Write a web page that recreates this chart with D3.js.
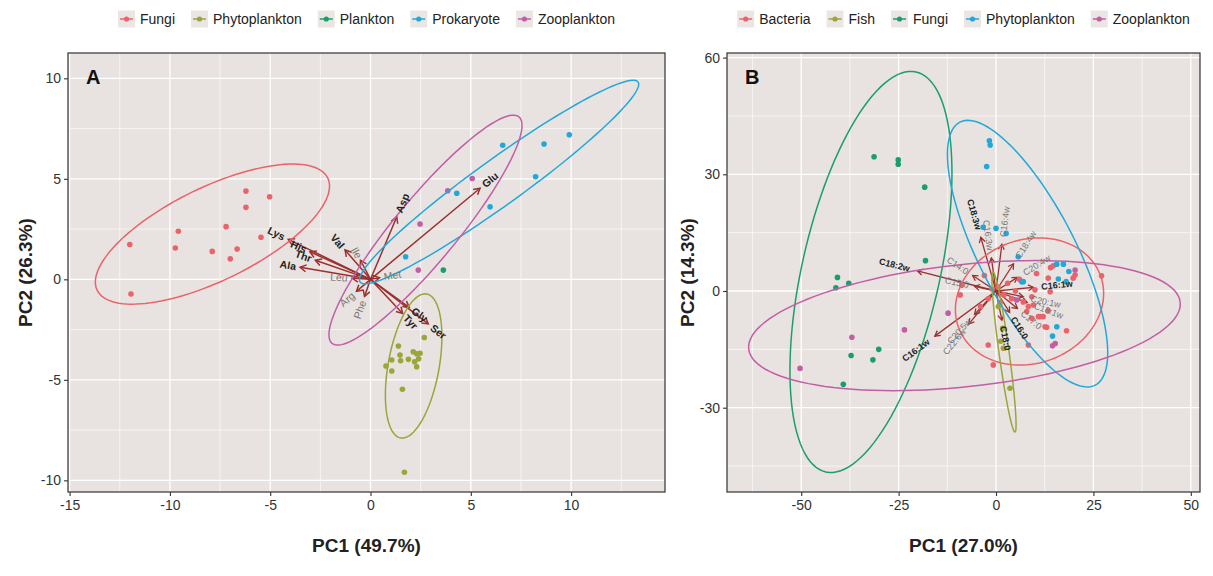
<!DOCTYPE html>
<html><head><meta charset="utf-8">
<script src="https://cdn.jsdelivr.net/npm/d3@7"></script>
<style>body{margin:0;background:#fff;} text{font-family:"Liberation Sans",Arial,Helvetica,sans-serif;}</style>
</head><body><svg id="c" width="1213" height="576"></svg>
<script>
// ---------------- DATA ----------------
// Panel A (amino acids)
const groupsA = ["Fungi","Phytoplankton","Plankton","Prokaryote","Zooplankton"];
const fungiA = [[-12.0,1.73],[-11.94,-0.73],[-9.58,2.39],[-9.73,1.56],[-7.89,1.39],[-7.2,2.62],[-6.99,1.02],[-6.65,1.51],[-6.21,4.39],[-6.21,3.58],[-5.03,4.11],[-5.46,2.09]];
const phytoA = [[1.39,-3.32],[0.77,-4.31],[1.06,-4.56],[1.06,-4.01],[1.47,-3.77],[1.5,-4.05],[1.89,-3.98],[2.13,-3.6],[2.3,-3.7],[2.47,-3.68],[2.4,-3.95],[2.3,-4.35],[2.68,-2.89],[1.59,-5.47],[1.69,-9.6],[2.2,-4.1]];
const planktonA = [[3.63,0.46]];
const prokA = [[6.59,6.67],[8.65,6.73],[9.91,7.19],[8.23,5.1],[4.3,4.28],[5.96,3.61],[1.75,1.12]];
const zooA = [[5.07,5.02],[3.85,4.41],[2.47,2.75],[2.38,0.46]];
// ellipses: [group, cx, cy, semi-major, semi-minor, angle(deg)]
const ellipsesA = [["Fungi",-7.88,2.25,6.39,2.32,25.9],["Phytoplankton",2.15,-4.31,3.64,1.27,79.7],["Prokaryote",6.41,4.84,8.53,1.15,35.7],["Zooplankton",2.74,2.45,7.31,1.56,50.4]];
// loadings: [name, PC1, PC2]
const loadingsA = [["Lys",-4.10,1.99],["His",-3.02,1.37],["Thr",-2.75,0.95],["Ala",-3.51,0.60],["Val",-1.27,1.46],["Ile",-0.5,0.95],["Leu",-0.92,0.06],["Met",0.45,0.08],["Arg",-0.7,-0.6],["Phe",-0.3,-0.85],["Asp",1.31,3.11],["Glu",5.46,4.53],["Gly",1.93,-1.39],["Tyr",1.6,-1.7],["Ser",2.88,-2.22]];
const minorVarsA = ["Ile","Leu","Met","Arg","Phe"];
const xTicksA = [-15,-10,-5,0,5,10];
const yTicksA = [-10,-5,0,5,10];

// Panel B (fatty acids)
const groupsB = ["Bacteria","Fish","Fungi","Phytoplankton","Zooplankton"];
const bactB = [[14.7,6.5],[14.0,6.0],[10.4,4.5],[13.4,3.3],[20.3,4.1],[19.8,3.3],[27.1,3.9],[13.9,-0.2],[10.9,-6.6],[12.1,-6.6],[13.4,-5.1],[8.3,-4.0],[9.2,-7.0],[13.0,-9.3],[18.1,-10.2],[-2.0,-13.9],[1.9,-14.7],[8.3,-13.9],[-0.7,-19.0],[10,0.3],[9.2,-1.5],[9.6,-3.6],[7,-2.8],[7.9,-5.3],[11.3,-6.6],[12.6,-9.2],[-9.2,-1.0],[-8.8,1.5],[0.5,1],[2,-1],[-1,0.5],[3,2],[4,-2],[5,0],[1,-3],[-2,-2],[6,3],[-3,4],[-4,-4]];
const fishB = [[1.7,-9.6],[1.2,-12.9],[2.1,-14.7],[3.6,-25.0],[0.6,-4.0]];
const fungiB = [[-31.3,34.5],[-25.1,33.7],[-25.1,32.6],[-18.3,26.7],[-18.1,7.8],[-40.7,3.5],[-41.1,0.85],[-37.8,2.0],[-37.2,-16.6],[-31.6,-17.7],[-30.1,-15.0],[-39.2,-24.0]];
const phytoB = [[-1.7,38.6],[-1.5,37.5],[-2.4,32],[-3.3,16.4],[0,16.1],[2.6,14.8],[5.7,8.8],[15.6,6.9],[17.3,6.9],[18.7,5],[16,3.1],[18,2.4],[15.6,-9.2],[14.5,-11.6],[6.6,2.4],[7,2.4]];
const zooB = [[-50.3,-19.9],[-37,-11.9],[-23.5,-10],[-12.3,-5.7],[14.5,-14.1],[15.2,-13.5],[5.3,-2.3],[20.3,5.4]];
const ellipsesB = [["Bacteria",8.6,-2.7,19.4,15.9,20],["Fish",2.05,-15.7,20.75,1.3,-82.2],["Fungi",-32.1,4.9,52.7,17.7,77.3],["Phytoplankton",8.1,9.6,38.0,12.4,-62.8],["Zooplankton",-8.1,-8.9,55.7,15.7,6.2]];
const loadingsB = [["C16:4w",1.5,12],["C16:3w",-1.2,8.5],["C18:4w",4.5,7],["C20:4w",5.5,3.5],["C14:0",-6,4],["C15:0",-5.5,1.2],["C20:5w",-5.5,-6],["C22:6w",-7,-8.5],["C20:1w",7,-1.5],["C17:0",5.5,-4.5],["C18:1w",8,-3],
  ["C18:3w",-3.9,13.8],["C18:2w",-20.2,5.2],["C16:1w",-15.7,-11.6],["C16:1w",9.6,0.95],["C16:0",3.5,-5.5],["C18:0",1.5,-7.5]];
const minorVarsB = ["C16:4w","C16:3w","C18:4w","C20:4w","C14:0","C15:0","C20:5w","C22:6w","C20:1w","C17:0","C18:1w"];
const xTicksB = [-50,-25,0,25,50];
const yTicksB = [-30,0,30,60];

// ---------------- STYLE ----------------
const palette = {red:"#ea636b", olive:"#9ba53a", green:"#1a9e6e", blue:"#22a8d8", magenta:"#c25ea6"};
const colA = {"Fungi":palette.red,"Phytoplankton":palette.olive,"Plankton":palette.green,"Prokaryote":palette.blue,"Zooplankton":palette.magenta};
const colB = {"Bacteria":palette.red,"Fish":palette.olive,"Fungi":palette.green,"Phytoplankton":palette.blue,"Zooplankton":palette.magenta};
const arrowCol = "#9b3030";
const svg = d3.select("#c");

function drawPanel(cfg){
  const g = svg.append("g");
  const x = d3.scaleLinear().domain(cfg.xDomain).range([cfg.left,cfg.right]);
  const y = d3.scaleLinear().domain(cfg.yDomain).range([cfg.bottom,cfg.top]);
  g.append("rect").attr("x",cfg.left).attr("y",cfg.top).attr("width",cfg.right-cfg.left).attr("height",cfg.bottom-cfg.top).attr("fill","#e8e3e0");
  const minors = (ticks, dom) => {
    const step = ticks[1]-ticks[0]; const out=[];
    for(let v=ticks[0]-step/2; v<=dom[1]; v+=step){ if(v>=dom[0]) out.push(v); }
    return out;
  };
  const grid = g.append("g");
  minors(cfg.xTicks,cfg.xDomain).forEach(v=>grid.append("line").attr("x1",x(v)).attr("x2",x(v)).attr("y1",cfg.top).attr("y2",cfg.bottom).attr("stroke","#fff").attr("stroke-width",0.6));
  minors(cfg.yTicks,cfg.yDomain).forEach(v=>grid.append("line").attr("y1",y(v)).attr("y2",y(v)).attr("x1",cfg.left).attr("x2",cfg.right).attr("stroke","#fff").attr("stroke-width",0.6));
  cfg.xTicks.forEach(v=>grid.append("line").attr("x1",x(v)).attr("x2",x(v)).attr("y1",cfg.top).attr("y2",cfg.bottom).attr("stroke","#fff").attr("stroke-width",1.3));
  cfg.yTicks.forEach(v=>grid.append("line").attr("y1",y(v)).attr("y2",y(v)).attr("x1",cfg.left).attr("x2",cfg.right).attr("stroke","#fff").attr("stroke-width",1.3));

  // arrows
  const ox = x(0), oy = y(0);
  const ag = g.append("g");
  cfg.loadings.forEach(([name,vx,vy])=>{
    const px = x(vx), py = y(vy);
    ag.append("line").attr("x1",ox).attr("y1",oy).attr("x2",px).attr("y2",py).attr("stroke",arrowCol).attr("stroke-width",cfg.arrowW);
    const phi = Math.atan2(py-oy,px-ox), L = cfg.headL;
    const p1 = [px-L*Math.cos(phi-Math.PI/6), py-L*Math.sin(phi-Math.PI/6)];
    const p2 = [px-L*Math.cos(phi+Math.PI/6), py-L*Math.sin(phi+Math.PI/6)];
    ag.append("path").attr("d",`M${p1[0]},${p1[1]}L${px},${py}L${p2[0]},${p2[1]}`).attr("fill","none").attr("stroke",arrowCol).attr("stroke-width",cfg.arrowW);
  });
  // points
  cfg.series.forEach(([grp,pts])=>{
    g.append("g").selectAll("circle").data(pts).join("circle").attr("cx",d=>x(d[0])).attr("cy",d=>y(d[1])).attr("r",2.8).attr("fill",cfg.colors[grp]);
  });
  // ellipses
  const line = d3.line().x(d=>x(d[0])).y(d=>y(d[1]));
  cfg.ellipses.forEach(([grp,cx,cy,a,b,ang])=>{
    const t = ang*Math.PI/180, pts=[];
    for(let i=0;i<=120;i++){ const s=i/120*2*Math.PI; pts.push([cx + a*Math.cos(s)*Math.cos(t) - b*Math.sin(s)*Math.sin(t), cy + a*Math.cos(s)*Math.sin(t) + b*Math.sin(s)*Math.cos(t)]); }
    g.append("path").attr("d",line(pts)).attr("fill","none").attr("stroke",cfg.colors[grp]).attr("stroke-width",1.5);
  });
  // variable labels (ggbiplot style)
  cfg.loadings.forEach(([name,vx,vy])=>{
    const px = x(vx), py = y(vy);
    const angle = -Math.atan(vy/vx)*180/Math.PI;
    const minor = cfg.minorVars.includes(name);
    const t = g.append("text").attr("transform",`translate(${px},${py}) rotate(${angle})`)
      .attr("dy","0.35em").attr("font-size",cfg.labelSize).attr("font-weight",minor?"normal":"bold")
      .attr("fill",minor?"#777":"#222").attr("text-anchor",vx>0?"start":"end").text(name);
    const w = t.node().getComputedTextLength();
    t.attr("x", vx>0 ? 0.25*w : -0.25*w);
  });
  // border
  g.append("rect").attr("x",cfg.left).attr("y",cfg.top).attr("width",cfg.right-cfg.left).attr("height",cfg.bottom-cfg.top).attr("fill","none").attr("stroke","#333").attr("stroke-width",1.2);
  // axes
  const xa = g.append("g").attr("transform",`translate(0,${cfg.bottom})`).call(d3.axisBottom(x).tickValues(cfg.xTicks).tickSize(4).tickPadding(4).tickFormat(d=>String(d)));
  const ya = g.append("g").attr("transform",`translate(${cfg.left},0)`).call(d3.axisLeft(y).tickValues(cfg.yTicks).tickSize(4).tickPadding(3).tickFormat(d=>String(d)));
  [xa,ya].forEach(a=>{ a.select(".domain").remove(); a.selectAll("line").attr("stroke","#333").attr("stroke-width",1.1); a.selectAll("text").attr("font-size",14).attr("fill","#333").attr("font-family",'"Liberation Sans",Arial,sans-serif'); });
  // titles
  g.append("text").attr("x",(cfg.left+cfg.right)/2).attr("y",552).attr("text-anchor","middle").attr("font-size",19).attr("font-weight","bold").attr("fill","#222").text(cfg.xTitle);
  g.append("text").attr("transform",`translate(${cfg.yTitleX},${(cfg.top+cfg.bottom)/2}) rotate(-90)`).attr("text-anchor","middle").attr("font-size",19).attr("font-weight","bold").attr("fill","#222").text(cfg.yTitle);
  g.append("text").attr("x",cfg.left+18).attr("y",cfg.top+31).attr("font-size",20).attr("font-weight","bold").attr("fill","#111").text(cfg.letter);
  // legend
  const lg = g.append("g");
  let cx = 0;
  cfg.groups.forEach(name=>{
    const it = lg.append("g");
    it.append("rect").attr("x",0).attr("y",-8.5).attr("width",17).attr("height",17).attr("fill","#ebe6e4");
    it.append("line").attr("x1",2).attr("x2",15).attr("y1",0).attr("y2",0).attr("stroke",cfg.colors[name]).attr("stroke-width",1.5);
    it.append("circle").attr("cx",8.5).attr("cy",0).attr("r",2.6).attr("fill",cfg.colors[name]);
    const tx = it.append("text").attr("x",22).attr("dy","0.35em").attr("font-size",14).attr("fill","#222").text(name);
    const w = 22 + tx.node().getComputedTextLength();
    it.attr("transform",`translate(${cx},0)`);
    cx += w + cfg.legendGap;
  });
  const total = cx - cfg.legendGap;
  lg.attr("transform",`translate(${(cfg.left+cfg.right)/2 - total/2},19)`);
}

drawPanel({left:68,right:665,top:53,bottom:492,xDomain:[-15.08,14.68],yDomain:[-10.58,11.26],xTicks:xTicksA,yTicks:yTicksA,
  series:[["Fungi",fungiA],["Phytoplankton",phytoA],["Plankton",planktonA],["Prokaryote",prokA],["Zooplankton",zooA]],
  ellipses:ellipsesA, loadings:loadingsA, minorVars:minorVarsA, colors:colA, groups:groupsA, labelSize:10.5, arrowW:1.5, headL:7,
  xTitle:"PC1 (49.7%)", yTitle:"PC2 (26.3%)", yTitleX:32, letter:"A", legendGap:16});
drawPanel({left:727,right:1200,top:53,bottom:492,xDomain:[-69.05,52.36],yDomain:[-51.67,61.18],xTicks:xTicksB,yTicks:yTicksB,
  series:[["Bacteria",bactB],["Fish",fishB],["Fungi",fungiB],["Phytoplankton",phytoB],["Zooplankton",zooB]],
  ellipses:ellipsesB, loadings:loadingsB, minorVars:minorVarsB, colors:colB, groups:groupsB, labelSize:9, arrowW:1.3, headL:6,
  xTitle:"PC1 (27.0%)", yTitle:"PC2 (14.3%)", yTitleX:694, letter:"B", legendGap:16});
</script></body></html>
